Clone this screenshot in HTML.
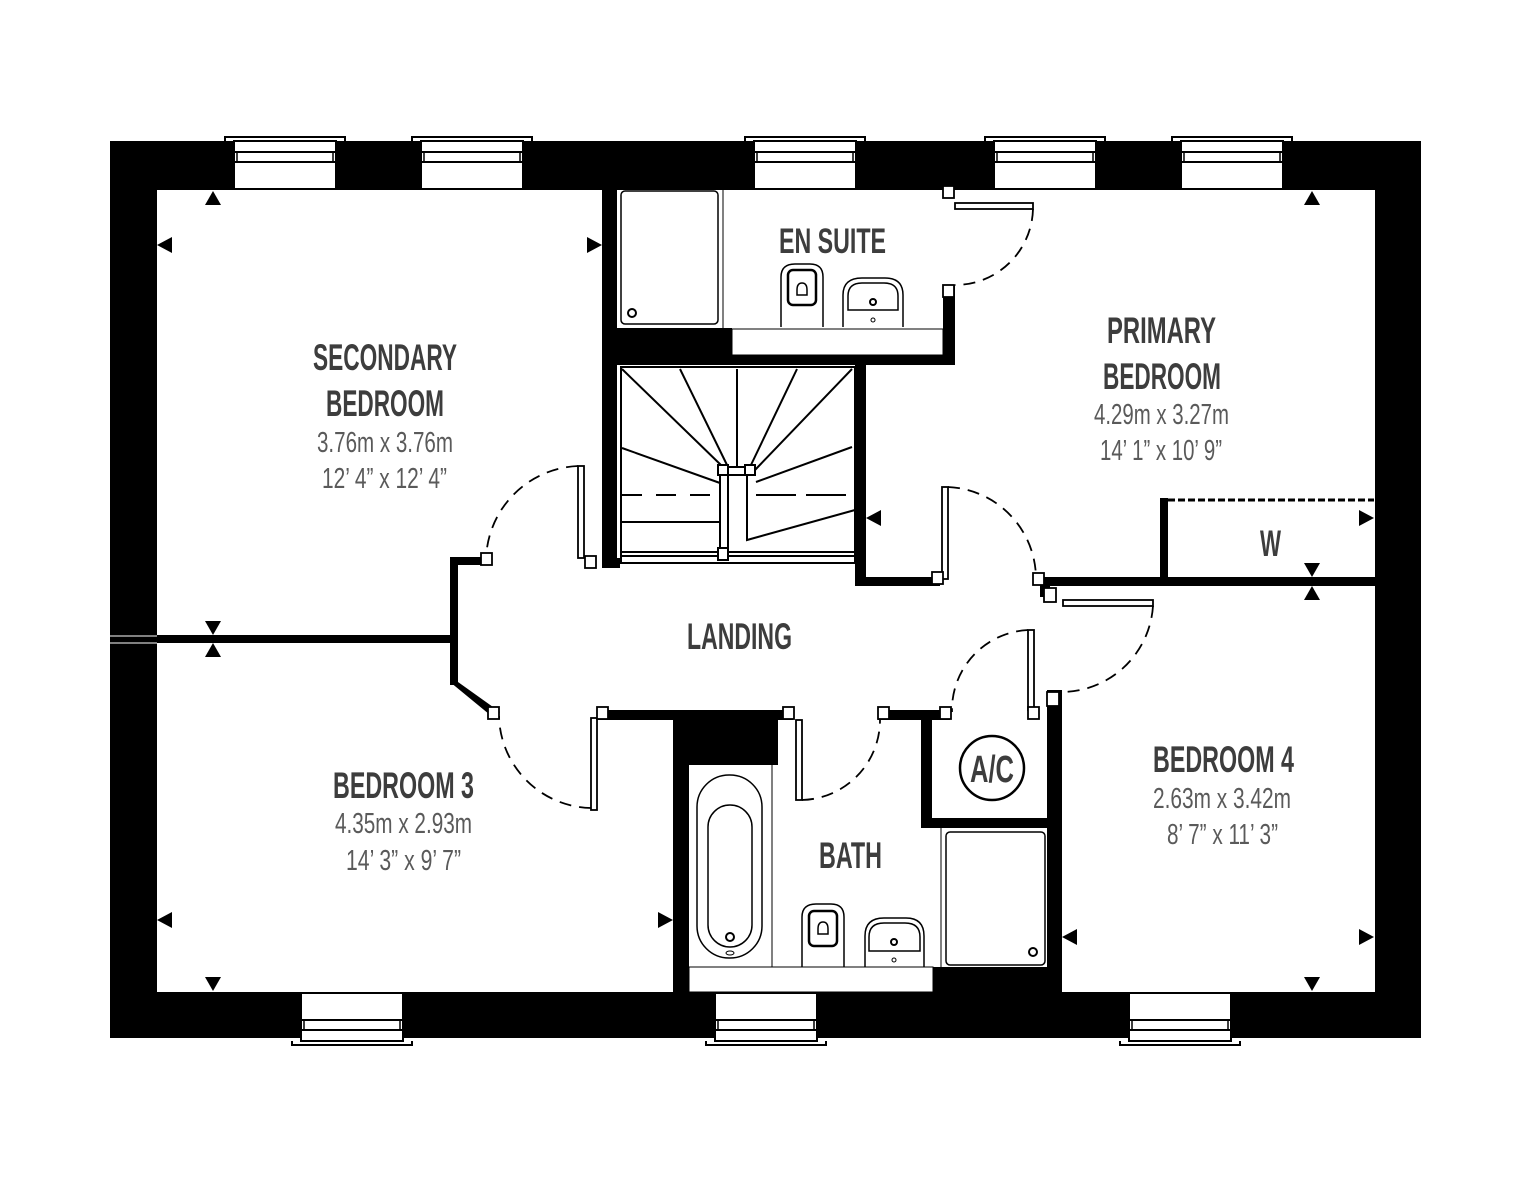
<!DOCTYPE html>
<html><head><meta charset="utf-8"><style>
html,body{margin:0;padding:0;background:#fff;}
svg{display:block;}
.t{font-family:"Liberation Sans",sans-serif;font-weight:bold;fill:#3d3d3d;}
.d{font-family:"Liberation Sans",sans-serif;fill:#5a5a5a;}
</style></head><body>
<svg width="1534" height="1181" viewBox="0 0 1534 1181" xmlns="http://www.w3.org/2000/svg">
<defs>
<g id="wt">
<path d="M0,4 L0,0 L120,0 L120,4" fill="none" stroke="#000" stroke-width="2"/>
<rect x="9" y="4" width="102" height="48" fill="#fff" stroke="#000" stroke-width="2"/>
<line x1="9" y1="15" x2="111" y2="15" stroke="#000" stroke-width="2"/>
<line x1="9" y1="25" x2="111" y2="25" stroke="#000" stroke-width="2"/>
<line x1="12" y1="15" x2="12" y2="25" stroke="#000" stroke-width="1.5"/>
<line x1="108" y1="15" x2="108" y2="25" stroke="#000" stroke-width="1.5"/>
</g>
</defs>
<rect x="110" y="141" width="1311" height="49" fill="#000"/>
<rect x="110" y="141" width="47" height="897" fill="#000"/>
<rect x="1375" y="141" width="46" height="897" fill="#000"/>
<rect x="110" y="992" width="1311" height="46" fill="#000"/>
<line x1="110" y1="636" x2="157" y2="636" stroke="#fff" stroke-width="1"/>
<line x1="110" y1="643" x2="157" y2="643" stroke="#fff" stroke-width="1"/>
<use href="#wt" x="225" y="137"/>
<use href="#wt" x="412" y="137"/>
<use href="#wt" x="745" y="137"/>
<use href="#wt" x="985" y="137"/>
<use href="#wt" x="1172" y="137"/>
<g transform="translate(0,2182) scale(1,-1)">
<use href="#wt" x="292" y="1137"/>
<use href="#wt" x="706" y="1137"/>
<use href="#wt" x="1120" y="1137"/>
</g>
<g fill="#000">
<rect x="602" y="190" width="15" height="378"/>
<rect x="602" y="558" width="18" height="10"/>
<rect x="616" y="328" width="116" height="30"/>
<rect x="602" y="355" width="353" height="10"/>
<rect x="943" y="285" width="12" height="80"/>
<rect x="855" y="365" width="11" height="220"/>
<rect x="855" y="577" width="85" height="9"/>
<rect x="1040" y="577" width="335" height="9"/>
<rect x="1160" y="498" width="8" height="80"/>
<rect x="157" y="635" width="298" height="8"/>
<rect x="450" y="557" width="8" height="128"/>
<rect x="450" y="557" width="40" height="8"/>
<polygon points="450,682 458,682 500,712 495,719"/>
<rect x="598" y="710" width="195" height="10"/>
<rect x="673" y="710" width="105" height="55"/>
<rect x="673" y="710" width="16" height="282"/>
<rect x="878" y="710" width="72" height="10"/>
<rect x="921" y="710" width="11" height="118"/>
<rect x="921" y="818" width="141" height="10"/>
<rect x="1047" y="690" width="15" height="302"/>
<rect x="1040" y="577" width="10" height="20"/>
<rect x="933" y="967" width="129" height="25"/>
</g>
<rect x="732" y="329" width="211" height="26" fill="#fff" stroke="#000" stroke-width="1"/>
<rect x="689" y="967" width="244" height="25" fill="#fff" stroke="#000" stroke-width="1"/>
<line x1="1168" y1="500" x2="1374" y2="500" stroke="#000" stroke-width="3" stroke-dasharray="7,3"/>
<rect x="621" y="191" width="97" height="133" rx="4" fill="none" stroke="#000" stroke-width="1.5"/>
<line x1="723" y1="190" x2="723" y2="328" stroke="#000" stroke-width="1"/>
<circle cx="632" cy="313" r="4" fill="none" stroke="#000" stroke-width="2"/>
<path d="M781,327 V277 Q781,264 795,264 H810 Q823,264 823,277 V327" fill="none" stroke="#000" stroke-width="1.5"/>
<rect x="788" y="270" width="28" height="35" rx="5" fill="none" stroke="#000" stroke-width="2.5"/>
<path d="M797,295 V290 Q797,283 802,283 Q807,283 807,290 V295 Z" fill="none" stroke="#000" stroke-width="1.5"/>
<path d="M843,327 V295 Q843,278 862,278 H885 Q903,278 903,295 V327" fill="none" stroke="#000" stroke-width="1.5"/>
<path d="M848,310 V296 Q848,283 862,283 H884 Q898,283 898,296 V310 Z" fill="none" stroke="#000" stroke-width="1.5"/>
<circle cx="873" cy="302" r="3" fill="none" stroke="#000" stroke-width="2"/>
<circle cx="873" cy="320" r="2" fill="none" stroke="#000" stroke-width="1"/>
<line x1="772" y1="765" x2="772" y2="967" stroke="#000" stroke-width="1"/>
<rect x="697" y="775" width="65" height="183" rx="32" fill="none" stroke="#000" stroke-width="1.5"/>
<rect x="708" y="805" width="44" height="142" rx="22" fill="none" stroke="#000" stroke-width="1.5"/>
<circle cx="730" cy="937" r="4" fill="none" stroke="#000" stroke-width="2"/>
<ellipse cx="730" cy="953" rx="4" ry="2" fill="none" stroke="#000" stroke-width="1"/>
<path d="M802,967 V917 Q802,904 816,904 H831 Q844,904 844,917 V967" fill="none" stroke="#000" stroke-width="1.5"/>
<rect x="809" y="911" width="28" height="35" rx="5" fill="none" stroke="#000" stroke-width="2.5"/>
<path d="M818,934 V929 Q818,922 823,922 Q828,922 828,929 V934 Z" fill="none" stroke="#000" stroke-width="1.5"/>
<path d="M865,967 V936 Q865,918 884,918 H906 Q924,918 924,936 V967" fill="none" stroke="#000" stroke-width="1.5"/>
<path d="M869,951 V937 Q869,923 884,923 H905 Q920,923 920,937 V951 Z" fill="none" stroke="#000" stroke-width="1.5"/>
<circle cx="894" cy="942" r="3" fill="none" stroke="#000" stroke-width="2"/>
<circle cx="894" cy="960" r="2" fill="none" stroke="#000" stroke-width="1"/>
<line x1="941" y1="828" x2="941" y2="967" stroke="#000" stroke-width="1"/>
<rect x="946" y="832" width="99" height="133" rx="4" fill="none" stroke="#000" stroke-width="1.5"/>
<circle cx="1033" cy="952" r="4" fill="none" stroke="#000" stroke-width="2"/>
<circle cx="992" cy="768" r="32" fill="#fff" stroke="#000" stroke-width="2.5"/>
<text class="t" x="970" y="782" font-size="38" textLength="44" lengthAdjust="spacingAndGlyphs">A/C</text>
<g stroke="#000" stroke-width="2" fill="none">
<rect x="621" y="367" width="234" height="196"/>
<line x1="622" y1="369" x2="723" y2="467"/>
<line x1="680" y1="369" x2="728" y2="467"/>
<line x1="737" y1="369" x2="737" y2="467"/>
<line x1="797" y1="369" x2="750" y2="467"/>
<line x1="852" y1="369" x2="755" y2="470"/>
<line x1="622" y1="448" x2="720" y2="483"/>
<line x1="852" y1="447" x2="756" y2="482"/>
<line x1="622" y1="495" x2="720" y2="495" stroke-dasharray="20,14"/>
<line x1="756" y1="495" x2="852" y2="495" stroke-dasharray="40,10"/>
<line x1="622" y1="522" x2="720" y2="522"/>
<line x1="622" y1="552" x2="855" y2="552"/>
<line x1="622" y1="556" x2="855" y2="556"/>
<rect x="720" y="470" width="8" height="80"/>
<polyline points="747,470 747,540 855,510"/>
<rect x="720" y="467" width="35" height="8"/>
<rect x="718" y="465" width="10" height="10" fill="#fff"/>
<rect x="745" y="465" width="10" height="10" fill="#fff"/>
<rect x="718" y="548" width="10" height="12" fill="#fff"/>
</g>
<g stroke="#000" stroke-width="1.8" fill="#fff">
<rect x="578" y="466" width="6" height="92"/>
<rect x="591" y="718" width="6" height="92"/>
<rect x="942" y="487" width="6" height="92"/>
<rect x="1063" y="600" width="90" height="6"/>
<rect x="1028" y="630" width="6" height="80"/>
<rect x="796" y="720" width="6" height="80"/>
<rect x="955" y="203" width="78" height="6"/>
</g>
<g stroke="#000" stroke-width="1.8" fill="none" stroke-dasharray="12,8">
<path d="M578,466 A96,96 0 0 0 486,560"/>
<path d="M591,808 A94,94 0 0 1 499,716"/>
<path d="M948,487 A92,92 0 0 1 1036,579"/>
<path d="M1153,606 A92,92 0 0 1 1062,692"/>
<path d="M1028,630 A80,80 0 0 0 952,712"/>
<path d="M802,800 A80,80 0 0 0 880,720"/>
<path d="M1033,209 A78,78 0 0 1 955,285"/>
</g>
<g fill="#fff" stroke="#000" stroke-width="1.8">
<rect x="481" y="553" width="11" height="12"/>
<rect x="585" y="556" width="11" height="12"/>
<rect x="488" y="707" width="11" height="12"/>
<rect x="597" y="707" width="11" height="12"/>
<rect x="783" y="707" width="11" height="12"/>
<rect x="878" y="707" width="11" height="12"/>
<rect x="940" y="707" width="11" height="12"/>
<rect x="1028" y="707" width="11" height="12"/>
<rect x="1047" y="692" width="12" height="14"/>
<rect x="932" y="572" width="11" height="12"/>
<rect x="1033" y="573" width="11" height="12"/>
<rect x="1044" y="588" width="12" height="14"/>
<rect x="943" y="186" width="11" height="12"/>
<rect x="943" y="285" width="11" height="12"/>
</g>
<g fill="#000">
<polygon points="205,205 221,205 213,191"/>
<polygon points="157,245 172,237 172,253"/>
<polygon points="602,245 587,237 587,253"/>
<polygon points="205,621 221,621 213,635"/>
<polygon points="205,657 221,657 213,643"/>
<polygon points="157,920 172,912 172,928"/>
<polygon points="673,920 658,912 658,928"/>
<polygon points="205,977 221,977 213,991"/>
<polygon points="1304,205 1320,205 1312,191"/>
<polygon points="866,518 881,510 881,526"/>
<polygon points="1374,518 1359,510 1359,526"/>
<polygon points="1304,563 1320,563 1312,577"/>
<polygon points="1304,600 1320,600 1312,586"/>
<polygon points="1062,937 1077,929 1077,945"/>
<polygon points="1374,937 1359,929 1359,945"/>
<polygon points="1304,977 1320,977 1312,991"/>
</g>
<text class="t" x="313" y="370" font-size="37" textLength="144" lengthAdjust="spacingAndGlyphs">SECONDARY</text>
<text class="t" x="326" y="416" font-size="37" textLength="118" lengthAdjust="spacingAndGlyphs">BEDROOM</text>
<text class="d" x="317" y="452" font-size="29" textLength="136" lengthAdjust="spacingAndGlyphs">3.76m x 3.76m</text>
<text class="d" x="322" y="488" font-size="29" textLength="125" lengthAdjust="spacingAndGlyphs">12’ 4” x 12’ 4”</text>
<text class="t" x="779" y="253" font-size="35" textLength="107" lengthAdjust="spacingAndGlyphs">EN SUITE</text>
<text class="t" x="1107" y="343" font-size="37" textLength="109" lengthAdjust="spacingAndGlyphs">PRIMARY</text>
<text class="t" x="1103" y="389" font-size="37" textLength="118" lengthAdjust="spacingAndGlyphs">BEDROOM</text>
<text class="d" x="1094" y="424" font-size="29" textLength="135" lengthAdjust="spacingAndGlyphs">4.29m x 3.27m</text>
<text class="d" x="1100" y="460" font-size="29" textLength="122" lengthAdjust="spacingAndGlyphs">14’ 1” x 10’ 9”</text>
<text class="t" x="1260" y="556" font-size="37" textLength="21" lengthAdjust="spacingAndGlyphs">W</text>
<text class="t" x="687" y="649" font-size="37" textLength="105" lengthAdjust="spacingAndGlyphs">LANDING</text>
<text class="t" x="819" y="868" font-size="37" textLength="63" lengthAdjust="spacingAndGlyphs">BATH</text>
<text class="t" x="333" y="798" font-size="37" textLength="141" lengthAdjust="spacingAndGlyphs">BEDROOM 3</text>
<text class="d" x="335" y="833" font-size="29" textLength="137" lengthAdjust="spacingAndGlyphs">4.35m x 2.93m</text>
<text class="d" x="346" y="870" font-size="29" textLength="115" lengthAdjust="spacingAndGlyphs">14’ 3” x 9’ 7”</text>
<text class="t" x="1153" y="772" font-size="37" textLength="141" lengthAdjust="spacingAndGlyphs">BEDROOM 4</text>
<text class="d" x="1153" y="808" font-size="29" textLength="138" lengthAdjust="spacingAndGlyphs">2.63m x 3.42m</text>
<text class="d" x="1167" y="844" font-size="29" textLength="111" lengthAdjust="spacingAndGlyphs">8’ 7” x 11’ 3”</text>
</svg>
</body></html>
